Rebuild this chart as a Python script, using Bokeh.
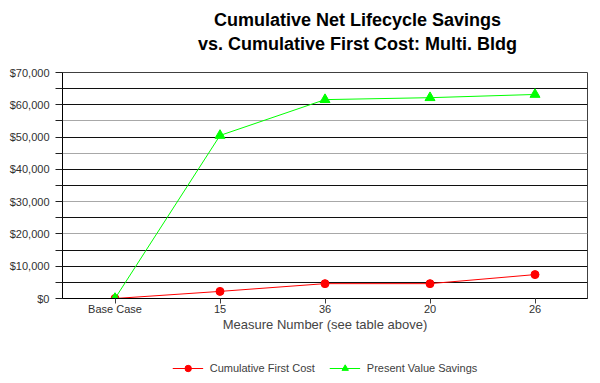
from bokeh.plotting import figure
from bokeh.embed import file_html
from bokeh.resources import INLINE
from bokeh.layouts import column
from bokeh.models import (Legend, LegendItem, NumeralTickFormatter, FixedTicker,
                          Grid, Label, Range1d, ColumnDataSource)

measures = ["Base Case", "15", "36", "20", "26"]
first_cost = [0, 2200, 4600, 4600, 7400]
pv_savings = [0, 50500, 61600, 62200, 63200]
y_major = [0, 10000, 20000, 30000, 40000, 50000, 60000, 70000]
y_minor = [5000, 15000, 25000, 35000, 45000, 55000, 65000]
grid_dark = [0, 5000, 10000, 15000, 25000, 35000, 40000, 50000, 60000, 65000]
grid_light = [20000, 30000, 45000, 55000, 70000]
title_lines = ["Cumulative Net Lifecycle Savings", "vs. Cumulative First Cost: Multi. Bldg"]
series_names = ["Cumulative First Cost", "Present Value Savings"]

src = ColumnDataSource(dict(m=measures, fc=first_cost, pv=pv_savings))

# ---- title strip ----
pt = figure(width=600, height=60, x_range=Range1d(0, 1), y_range=Range1d(0, 1),
            output_backend="svg", toolbar_location=None,
            x_axis_location=None, y_axis_location=None,
            min_border=0, min_border_left=0, min_border_right=0,
            min_border_top=0, min_border_bottom=0)
pt.outline_line_color = None
pt.grid.grid_line_color = None
for i, t in enumerate(title_lines):
    pt.add_layout(Label(x=295, y=40.5 - 24 * i, x_units="screen", y_units="screen", text=t,
                        text_align="center", text_baseline="alphabetic",
                        text_font="Liberation Sans", text_font_size="18px",
                        text_font_style="bold", text_color="black"))

# ---- main chart ----
p = figure(width=600, height=293, x_range=measures, y_range=(0, 70000),
           output_backend="svg", toolbar_location=None,
           min_border_left=62, min_border_right=13, min_border_top=12, min_border_bottom=55)
p.background_fill_color = "white"
p.border_fill_color = "white"
p.outline_line_color = "#404040"

p.xgrid.grid_line_color = None
p.ygrid.grid_line_color = None
p.add_layout(Grid(dimension=1, ticker=FixedTicker(ticks=grid_dark),
                  grid_line_color="#101010", grid_line_width=1))
p.add_layout(Grid(dimension=1, ticker=FixedTicker(ticks=grid_light),
                  grid_line_color="#a8a8a8", grid_line_width=1))

p.yaxis.ticker = FixedTicker(ticks=y_major, minor_ticks=y_minor)
p.yaxis.formatter = NumeralTickFormatter(format="$0,0")
p.yaxis.major_label_text_font = "Liberation Sans"
p.yaxis.major_label_text_font_size = "11px"
p.yaxis.major_label_text_color = "#303030"
p.yaxis.major_tick_out = 7
p.yaxis.major_tick_in = 0
p.yaxis.minor_tick_out = 7
p.yaxis.minor_tick_in = 0
p.yaxis.axis_line_color = "black"
p.yaxis.major_tick_line_color = "#202020"
p.yaxis.minor_tick_line_color = "#202020"
p.yaxis.major_label_standoff = 6

p.xaxis.axis_label = "Measure Number (see table above)"
p.xaxis.axis_label_text_font = "Liberation Sans"
p.xaxis.axis_label_text_font_style = "normal"
p.xaxis.axis_label_text_font_size = "13px"
p.xaxis.axis_label_standoff = -1
p.xaxis.major_label_text_font = "Liberation Sans"
p.xaxis.major_label_text_font_size = "11px"
p.xaxis.major_label_text_color = "#303030"
p.xaxis.major_tick_out = 5
p.xaxis.major_tick_in = 0
p.xaxis.major_label_standoff = -1
p.xaxis.axis_line_color = "black"
p.xaxis.major_tick_line_color = "#404040"

p.line("m", "fc", source=src, line_color="#ff0000", line_width=1)
p.scatter("m", "fc", source=src, marker="circle", size=8, fill_color="#ff0000", line_color="#ff0000")
p.line("m", "pv", source=src, line_color="#00ff00", line_width=1)
p.scatter("m", "pv", source=src, marker="triangle", size=10, fill_color="#00ff00", line_color="#00ff00")

# ---- legend strip (series drawn off-screen, only the legend shows) ----
pl = figure(width=600, height=30, x_range=measures, y_range=Range1d(-3e6, -2e6),
            output_backend="svg", toolbar_location=None,
            x_axis_location=None, y_axis_location=None,
            min_border_left=62, min_border_right=13, min_border_top=0, min_border_bottom=0)
pl.outline_line_color = None
pl.grid.grid_line_color = None
ll1 = pl.line("m", "fc", source=src, line_color="#ff0000", line_width=1)
lc1 = pl.scatter("m", "fc", source=src, marker="circle", size=8, fill_color="#ff0000", line_color="#ff0000")
ll2 = pl.line("m", "pv", source=src, line_color="#00ff00", line_width=1)
lc2 = pl.scatter("m", "pv", source=src, marker="triangle", size=10, fill_color="#00ff00", line_color="#00ff00")
legend = Legend(items=[LegendItem(label=series_names[0], renderers=[ll1, lc1]),
                       LegendItem(label=series_names[1], renderers=[ll2, lc2])],
                orientation="horizontal", location="center",
                label_text_font="Liberation Sans", label_text_font_size="11px",
                label_text_color="#404040", border_line_color=None,
                background_fill_alpha=0, glyph_width=31, glyph_height=16, label_height=16,
                spacing=14, padding=0, margin=0, label_standoff=7)
pl.add_layout(legend, "center")

layout = column(pt, p, pl, spacing=0)
open("out.html", "w").write(file_html(layout, INLINE))
